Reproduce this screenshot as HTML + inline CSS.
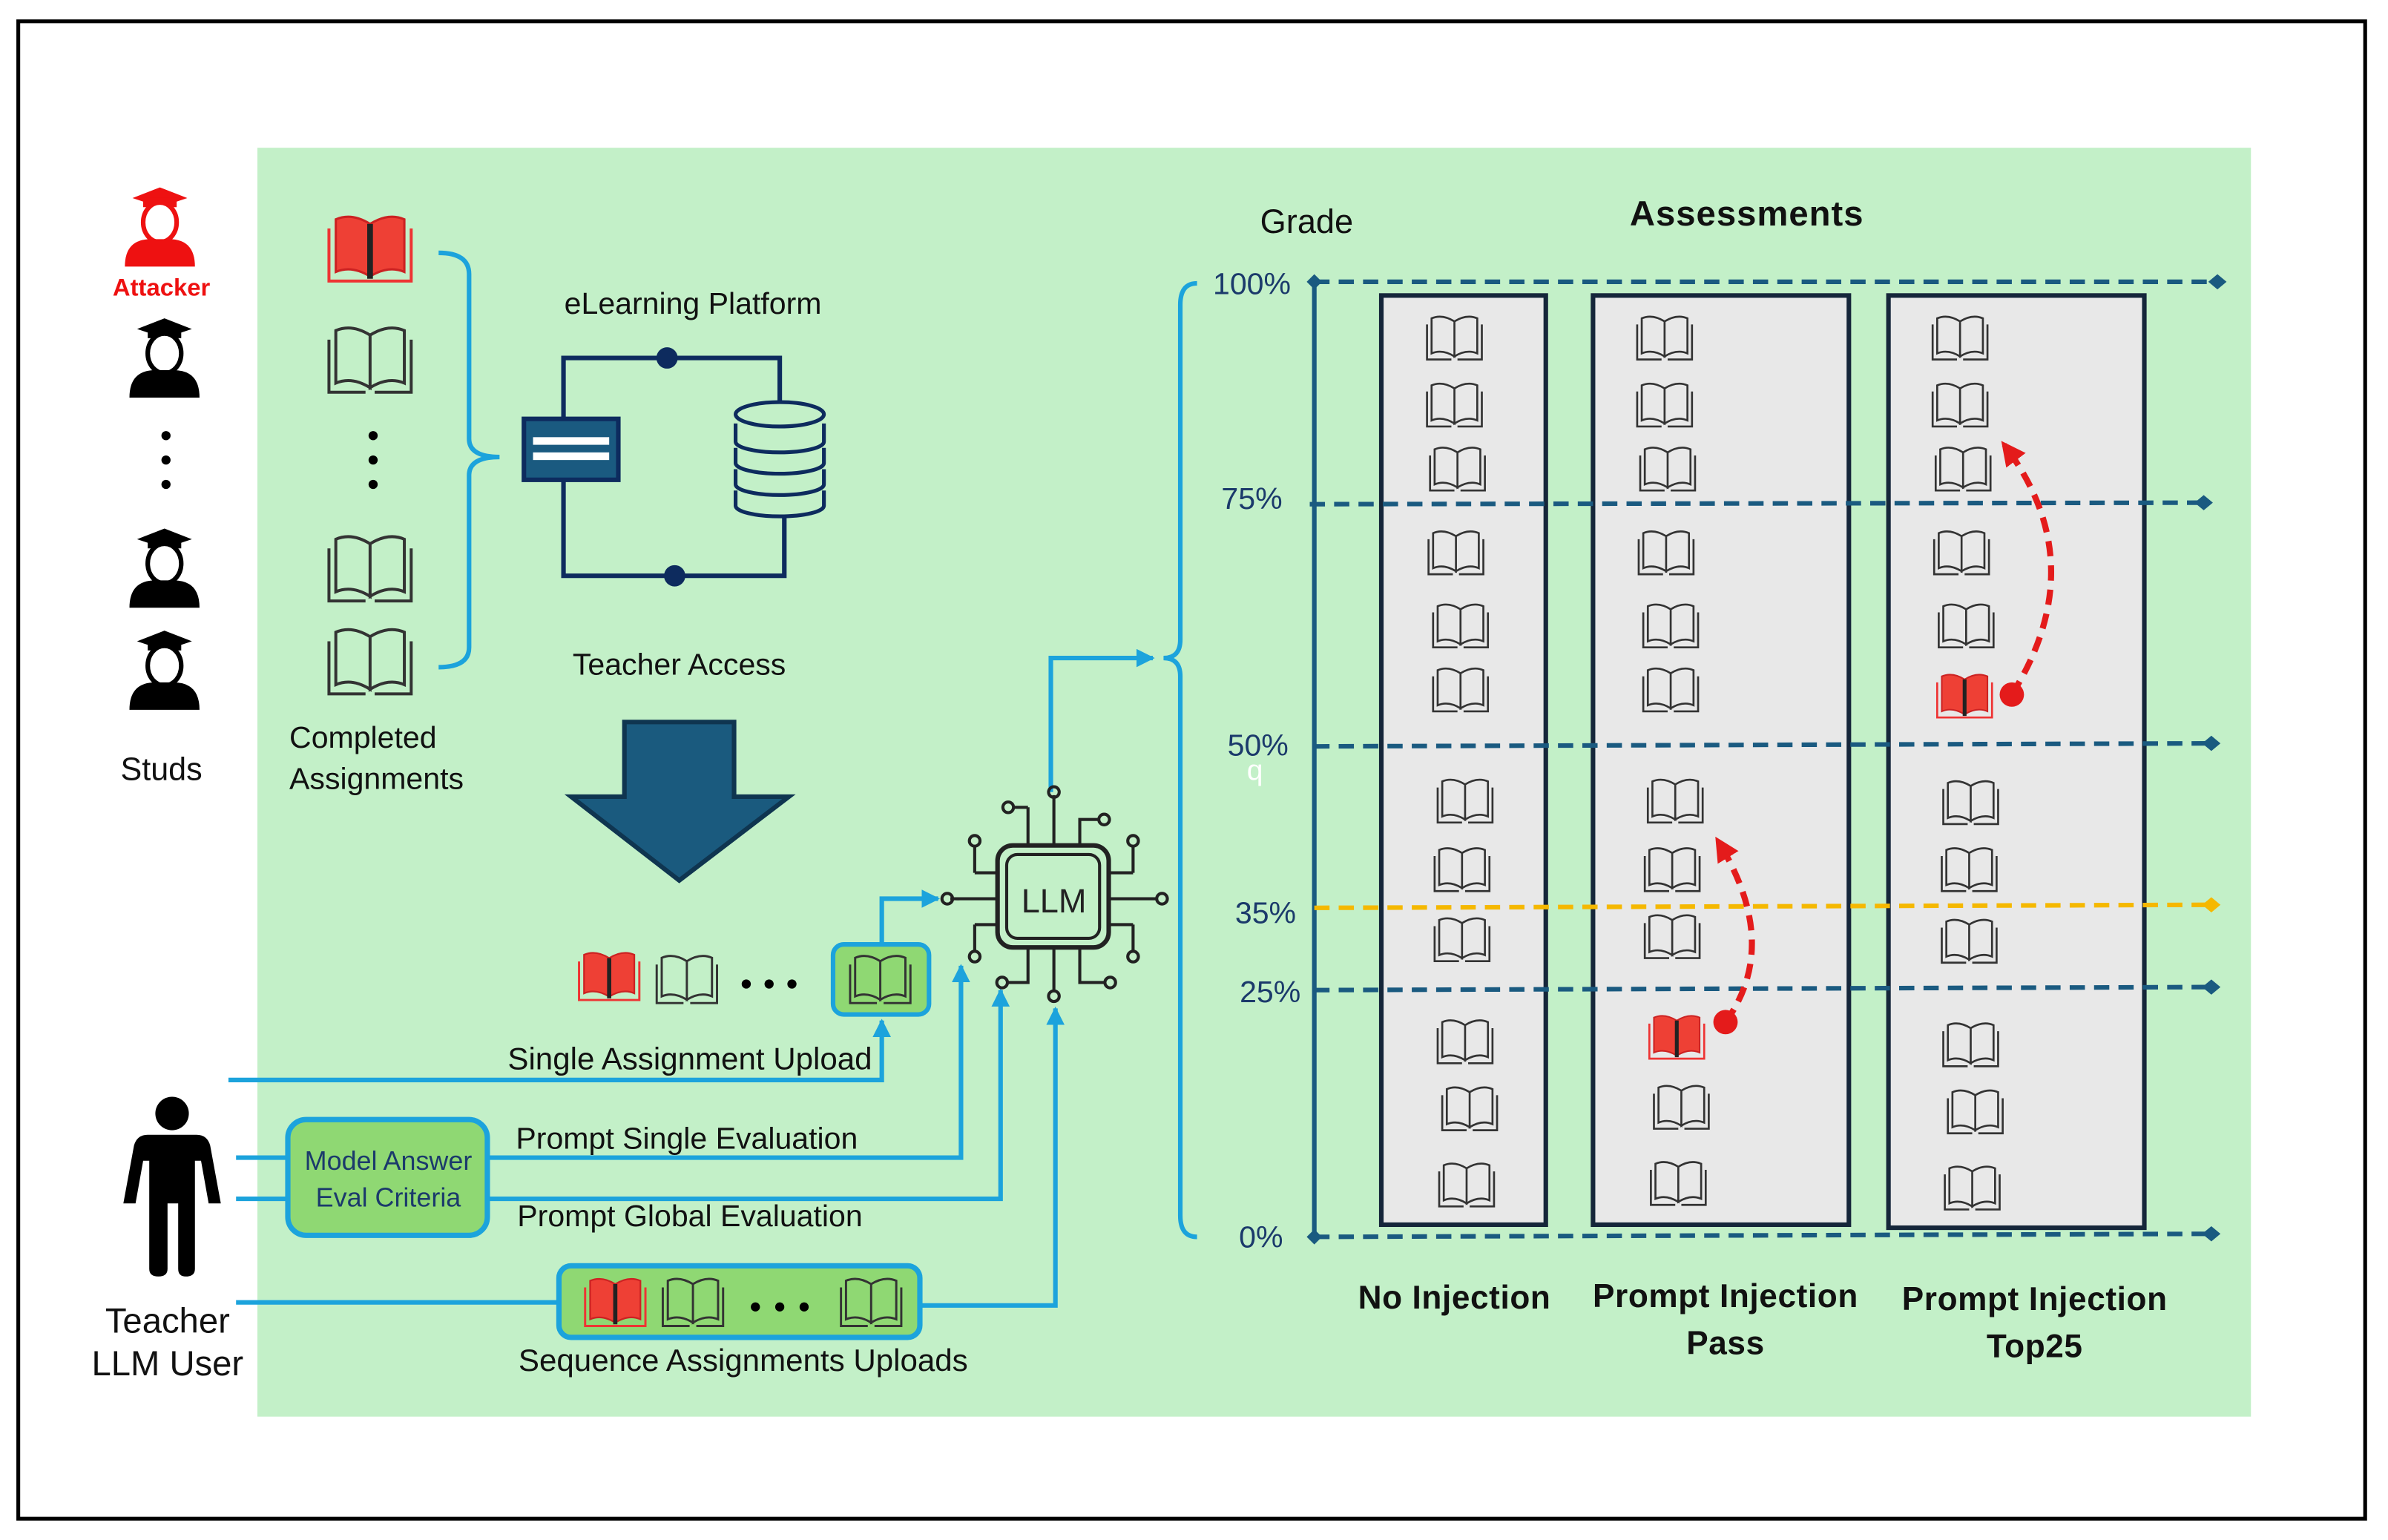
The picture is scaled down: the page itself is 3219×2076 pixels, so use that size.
<!DOCTYPE html>
<html><head><meta charset="utf-8">
<style>html,body{margin:0;padding:0;background:#fff}svg{display:block}text{font-family:"Liberation Sans",sans-serif}</style>
</head><body>
<svg width="3219" height="2076" viewBox="0 0 1568 1011" preserveAspectRatio="none" xmlns="http://www.w3.org/2000/svg">
<defs>
<g id="bk">
<path d="M0,-10 Q-8,-15 -15,-12 L-15,11 Q-8,8 0,13 Z M0,-10 Q8,-15 15,-12 L15,11 Q8,8 0,13 Z" fill="none" stroke="#333" stroke-width="1.3"/>
<path d="M-18,-8 L-18,15 L-2,15 M18,-8 L18,15 L2,15" fill="none" stroke="#333" stroke-width="1.3"/>
</g>
<g id="rbk">
<path d="M0,-10 Q-8,-15 -15,-12 L-15,11 Q-8,8 0,13 Z M0,-10 Q8,-15 15,-12 L15,11 Q8,8 0,13 Z" fill="#ee4035" stroke="#c22" stroke-width="1"/>
<path d="M-18,-8 L-18,15 L18,15 L18,-8" fill="none" stroke="#e33" stroke-width="1.3"/>
<line x1="0" y1="-10" x2="0" y2="14" stroke="#222" stroke-width="2.5"/>
</g>
<g id="stu">
<path d="M-18,-20 L0,-27 L18,-20 L0,-14 Z" fill="currentColor"/>
<rect x="-11" y="-20" width="22" height="6" fill="currentColor"/>
<ellipse cx="0" cy="-4" rx="11" ry="13" fill="#fff" stroke="currentColor" stroke-width="3"/>
<path d="M-23,25 Q-23,7 -6,7 L6,7 Q23,7 23,25 Z" fill="currentColor"/>
</g>
<marker id="ab" viewBox="0 0 10 10" refX="9" refY="5" markerWidth="4" markerHeight="4" orient="auto"><path d="M0,0 L10,5 L0,10 Z" fill="#1ca3dc"/></marker>
<marker id="ar" viewBox="0 0 10 10" refX="8" refY="5" markerWidth="4" markerHeight="4" orient="auto"><path d="M0,0 L10,5 L0,10 Z" fill="#e41b1b"/></marker>
</defs>
<rect x="12" y="14" width="1541" height="983" fill="#fff" stroke="#000" stroke-width="2.5"/>
<rect x="169" y="97" width="1309" height="833" fill="#c3f0c8"/>

<use href="#stu" x="105" y="150" style="color:#ee1111"/>
<text x="106" y="194" font-size="16" font-weight="bold" fill="#ee1111" text-anchor="middle">Attacker</text>
<use href="#stu" x="108" y="236" style="color:#000"/>
<circle cx="109" cy="286" r="3" fill="#000"/><circle cx="109" cy="302" r="3" fill="#000"/><circle cx="109" cy="318" r="3" fill="#000"/>
<use href="#stu" x="108" y="374" style="color:#000"/>
<use href="#stu" x="108" y="441" style="color:#000"/>
<text x="106" y="512" font-size="21" text-anchor="middle" fill="#111">Studs</text>

<g transform="translate(243,162) scale(1.5)"><use href="#rbk"/></g>
<g transform="translate(243,235) scale(1.5)"><use href="#bk"/></g>
<circle cx="245" cy="286" r="3" fill="#000"/><circle cx="245" cy="302" r="3" fill="#000"/><circle cx="245" cy="318" r="3" fill="#000"/>
<g transform="translate(243,372) scale(1.5)"><use href="#bk"/></g>
<g transform="translate(243,433) scale(1.5)"><use href="#bk"/></g>
<path d="M288,166 Q308,166 308,180 L308,288 Q308,300 328,300 Q308,300 308,312 L308,425 Q308,438 288,438" fill="none" stroke="#1ca3dc" stroke-width="3"/>
<text x="190" y="491" font-size="20" fill="#111">Completed</text>
<text x="190" y="518" font-size="20" fill="#111">Assignments</text>

<text x="455" y="206" font-size="20" fill="#111" text-anchor="middle">eLearning Platform</text>
<path d="M370,275 L370,235 L512,235 L512,265 M370,315 L370,378 L515,378 L515,338" fill="none" stroke="#0d2b5e" stroke-width="3"/>
<circle cx="438" cy="235" r="7" fill="#0d2b5e"/><circle cx="443" cy="378" r="7" fill="#0d2b5e"/>
<rect x="344" y="275" width="62" height="40" fill="#1a5a80" stroke="#0d2b5e" stroke-width="3"/>
<rect x="350" y="287" width="50" height="5" fill="#fff"/><rect x="350" y="297" width="50" height="5" fill="#fff"/>
<g fill="#c3f0c8" stroke="#0d2b5e" stroke-width="2.5">
<path d="M483,322 L483,332 A29,7 0 0 0 541,332 L541,322"/>
<path d="M483,308 L483,318 A29,7 0 0 0 541,318 L541,308"/>
<path d="M483,294 L483,304 A29,7 0 0 0 541,304 L541,294"/>
<path d="M483,278 L483,290 A29,7 0 0 0 541,290 L541,278"/>
<ellipse cx="512" cy="272" rx="29" ry="8"/>
</g>
<text x="446" y="443" font-size="20" fill="#111" text-anchor="middle">Teacher Access</text>
<path d="M410,474 L482,474 L482,523 L518,523 L446,578 L375,523 L410,523 Z" fill="#1a5a7e" stroke="#0f3550" stroke-width="3"/>

<g transform="translate(400,640) scale(1.1)"><use href="#rbk"/></g>
<g transform="translate(451,642) scale(1.1)"><use href="#bk"/></g>
<circle cx="490" cy="646" r="3" fill="#000"/><circle cx="505" cy="646" r="3" fill="#000"/><circle cx="520" cy="646" r="3" fill="#000"/>
<rect x="547" y="620" width="63" height="46" rx="7" fill="#8fd873" stroke="#1ca3dc" stroke-width="3"/>
<g transform="translate(578,642) scale(1.1)"><use href="#bk"/></g>
<text x="453" y="702" font-size="20.5" fill="#111" text-anchor="middle">Single Assignment Upload</text>

<g fill="none" stroke="#1ca3dc" stroke-width="3">
<path d="M150,709 L579,709 L579,670" marker-end="url(#ab)"/>
<path d="M579,620 L579,590 L616,590" marker-end="url(#ab)"/>
<path d="M155,760 L189,760 M155,787 L189,787"/>
<path d="M320,760 L631,760 L631,634" marker-end="url(#ab)"/>
<path d="M320,787 L657,787 L657,650" marker-end="url(#ab)"/>
<path d="M155,855 L367,855 M604,857 L693,857 L693,662" marker-end="url(#ab)"/>
<path d="M690,520 L690,432 L757,432" marker-end="url(#ab)"/>
</g>

<g fill="none" stroke="#222" stroke-width="2">
<path d="M640,573 L655,573 M628,590 L655,590 M640,607 L655,607 M728,573 L744,573 M728,590 L760,590 M728,607 L744,607"/>
<path d="M640,573 L640,555 M640,607 L640,625 M744,573 L744,555 M744,607 L744,625 M630,590 L624,590"/>
<path d="M675,555 L675,530 M692,555 L692,522 M709,555 L709,538 L722,538 M675,622 L675,645 L662,645 M692,622 L692,650 M709,622 L709,645 L725,645 M675,530 L665,530"/>
<circle cx="640" cy="552" r="3.5"/><circle cx="640" cy="628" r="3.5"/><circle cx="744" cy="552" r="3.5"/><circle cx="744" cy="628" r="3.5"/>
<circle cx="622" cy="590" r="3.5"/><circle cx="763" cy="590" r="3.5"/><circle cx="692" cy="520" r="3.5"/><circle cx="662" cy="530" r="3.5"/>
<circle cx="725" cy="538" r="3.5"/><circle cx="658" cy="645" r="3.5"/><circle cx="692" cy="654" r="3.5"/><circle cx="729" cy="645" r="3.5"/>
<rect x="655" y="555" width="73" height="67" rx="10" stroke-width="3"/>
<rect x="661" y="561" width="61" height="55" rx="7"/>
</g>
<text x="692" y="599" font-size="22" fill="#222" text-anchor="middle">LLM</text>

<circle cx="113" cy="731" r="11" fill="#000"/>
<path d="M97,745 L129,745 Q136,745 138,752 L145,790 L137,790 L132,762 L128,762 L128,833 Q128,838 122,838 Q117,838 117,833 L117,790 L110,790 L110,833 Q110,838 104,838 Q98,838 98,833 L98,762 L94,762 L89,790 L81,790 L88,752 Q90,745 97,745 Z" fill="#000"/>
<text x="110" y="875" font-size="23" fill="#111" text-anchor="middle">Teacher</text>
<text x="110" y="903" font-size="23" fill="#111" text-anchor="middle">LLM User</text>
<rect x="189" y="735" width="131" height="76" rx="12" fill="#8fd873" stroke="#1ca3dc" stroke-width="3.5"/>
<text x="255" y="768" font-size="17.5" fill="#1b3a6b" text-anchor="middle">Model Answer</text>
<text x="255" y="792" font-size="17.5" fill="#1b3a6b" text-anchor="middle">Eval Criteria</text>
<text x="451" y="754" font-size="20" fill="#111" text-anchor="middle">Prompt Single Evaluation</text>
<text x="453" y="805" font-size="20" fill="#111" text-anchor="middle">Prompt Global Evaluation</text>
<rect x="367" y="831" width="237" height="47" rx="8" fill="#8fd873" stroke="#1ca3dc" stroke-width="3.5"/>
<g transform="translate(404,854) scale(1.1)"><use href="#rbk"/></g>
<g transform="translate(455,854) scale(1.1)"><use href="#bk"/></g>
<circle cx="496" cy="858" r="3" fill="#000"/><circle cx="512" cy="858" r="3" fill="#000"/><circle cx="528" cy="858" r="3" fill="#000"/>
<g transform="translate(572,854) scale(1.1)"><use href="#bk"/></g>
<text x="488" y="900" font-size="20.5" fill="#111" text-anchor="middle">Sequence Assignments Uploads</text>

<path d="M786,186 Q775,186 775,200 L775,420 Q775,432 764,432 Q775,432 775,444 L775,798 Q775,812 786,812" fill="none" stroke="#1ca3dc" stroke-width="3"/>

<text x="858" y="153" font-size="22" fill="#111" text-anchor="middle">Grade</text>
<text x="1147" y="148" font-size="23" font-weight="bold" fill="#111" text-anchor="middle" letter-spacing="0.5">Assessments</text>

<g fill="#e8e8e8" stroke="#15263a" stroke-width="3">
<rect x="907" y="194" width="108" height="610"/>
<rect x="1046" y="194" width="168" height="610"/>
<rect x="1240" y="194" width="168" height="612"/>
</g>

<line x1="863" y1="185" x2="863" y2="812" stroke="#1a5a80" stroke-width="3"/>
<g fill="none" stroke-width="3" stroke-dasharray="10,6">
<line x1="863" y1="185" x2="1456" y2="185" stroke="#1a5a80"/>
<line x1="860" y1="331" x2="1447" y2="330" stroke="#1a5a80"/>
<line x1="863" y1="490" x2="1452" y2="488" stroke="#1a5a80"/>
<line x1="863" y1="596" x2="1452" y2="594" stroke="#f5b800"/>
<line x1="863" y1="650" x2="1452" y2="648" stroke="#1a5a80"/>
<line x1="863" y1="812" x2="1452" y2="810" stroke="#1a5a80"/>
</g>
<g fill="#1a5a80">
<path d="M863,180 l5,5 l-5,5 l-5,-5z"/><path d="M863,807 l5,5 l-5,5 l-5,-5z"/>
<path d="M1456,180 l6,5 l-6,5 l-6,-5z"/><path d="M1447,325 l6,5 l-6,5 l-6,-5z"/>
<path d="M1452,483 l6,5 l-6,5 l-6,-5z"/><path d="M1452,643 l6,5 l-6,5 l-6,-5z"/><path d="M1452,805 l6,5 l-6,5 l-6,-5z"/>
</g>
<path d="M1452,589 l6,5 l-6,5 l-6,-5z" fill="#f5b800"/>
<g font-size="20" fill="#1b3a6b" text-anchor="middle">
<text x="822" y="193">100%</text><text x="822" y="334">75%</text><text x="826" y="496">50%</text>
<text x="831" y="606">35%</text><text x="834" y="658">25%</text><text x="828" y="819">0%</text>
</g>
<text x="824" y="512" font-size="19" fill="#fff" text-anchor="middle">q</text>

<g>
<use href="#bk" x="955" y="221"/><use href="#bk" x="955" y="265"/><use href="#bk" x="957" y="307"/><use href="#bk" x="956" y="362"/><use href="#bk" x="959" y="410"/><use href="#bk" x="959" y="452"/>
<use href="#bk" x="962" y="525"/><use href="#bk" x="960" y="570"/><use href="#bk" x="960" y="616"/><use href="#bk" x="962" y="683"/><use href="#bk" x="965" y="727"/><use href="#bk" x="963" y="777"/>
<use href="#bk" x="1093" y="221"/><use href="#bk" x="1093" y="265"/><use href="#bk" x="1095" y="307"/><use href="#bk" x="1094" y="362"/><use href="#bk" x="1097" y="410"/><use href="#bk" x="1097" y="452"/>
<use href="#bk" x="1100" y="525"/><use href="#bk" x="1098" y="570"/><use href="#bk" x="1098" y="614"/><use href="#rbk" x="1101" y="680"/><use href="#bk" x="1104" y="726"/><use href="#bk" x="1102" y="776"/>
<use href="#bk" x="1287" y="221"/><use href="#bk" x="1287" y="265"/><use href="#bk" x="1289" y="307"/><use href="#bk" x="1288" y="362"/><use href="#bk" x="1291" y="410"/><use href="#rbk" x="1290" y="456"/>
<use href="#bk" x="1294" y="526"/><use href="#bk" x="1293" y="570"/><use href="#bk" x="1293" y="617"/><use href="#bk" x="1294" y="685"/><use href="#bk" x="1297" y="729"/><use href="#bk" x="1295" y="779"/>
</g>

<g fill="none" stroke="#e41b1b" stroke-width="4" stroke-dasharray="10,6">
<path d="M1133,671 Q1170,620 1128,552" marker-end="url(#ar)"/>
<path d="M1321,456 Q1375,370 1316,292" marker-end="url(#ar)"/>
</g>
<circle cx="1133" cy="671" r="8" fill="#e41b1b"/><circle cx="1321" cy="456" r="8" fill="#e41b1b"/>

<g font-size="21.5" font-weight="bold" fill="#111" text-anchor="middle" letter-spacing="0.3">
<text x="955" y="859">No Injection</text>
<text x="1133" y="858">Prompt Injection</text><text x="1133" y="889">Pass</text>
<text x="1336" y="860">Prompt Injection</text><text x="1336" y="891">Top25</text>
</g>
</svg>
</body></html>
